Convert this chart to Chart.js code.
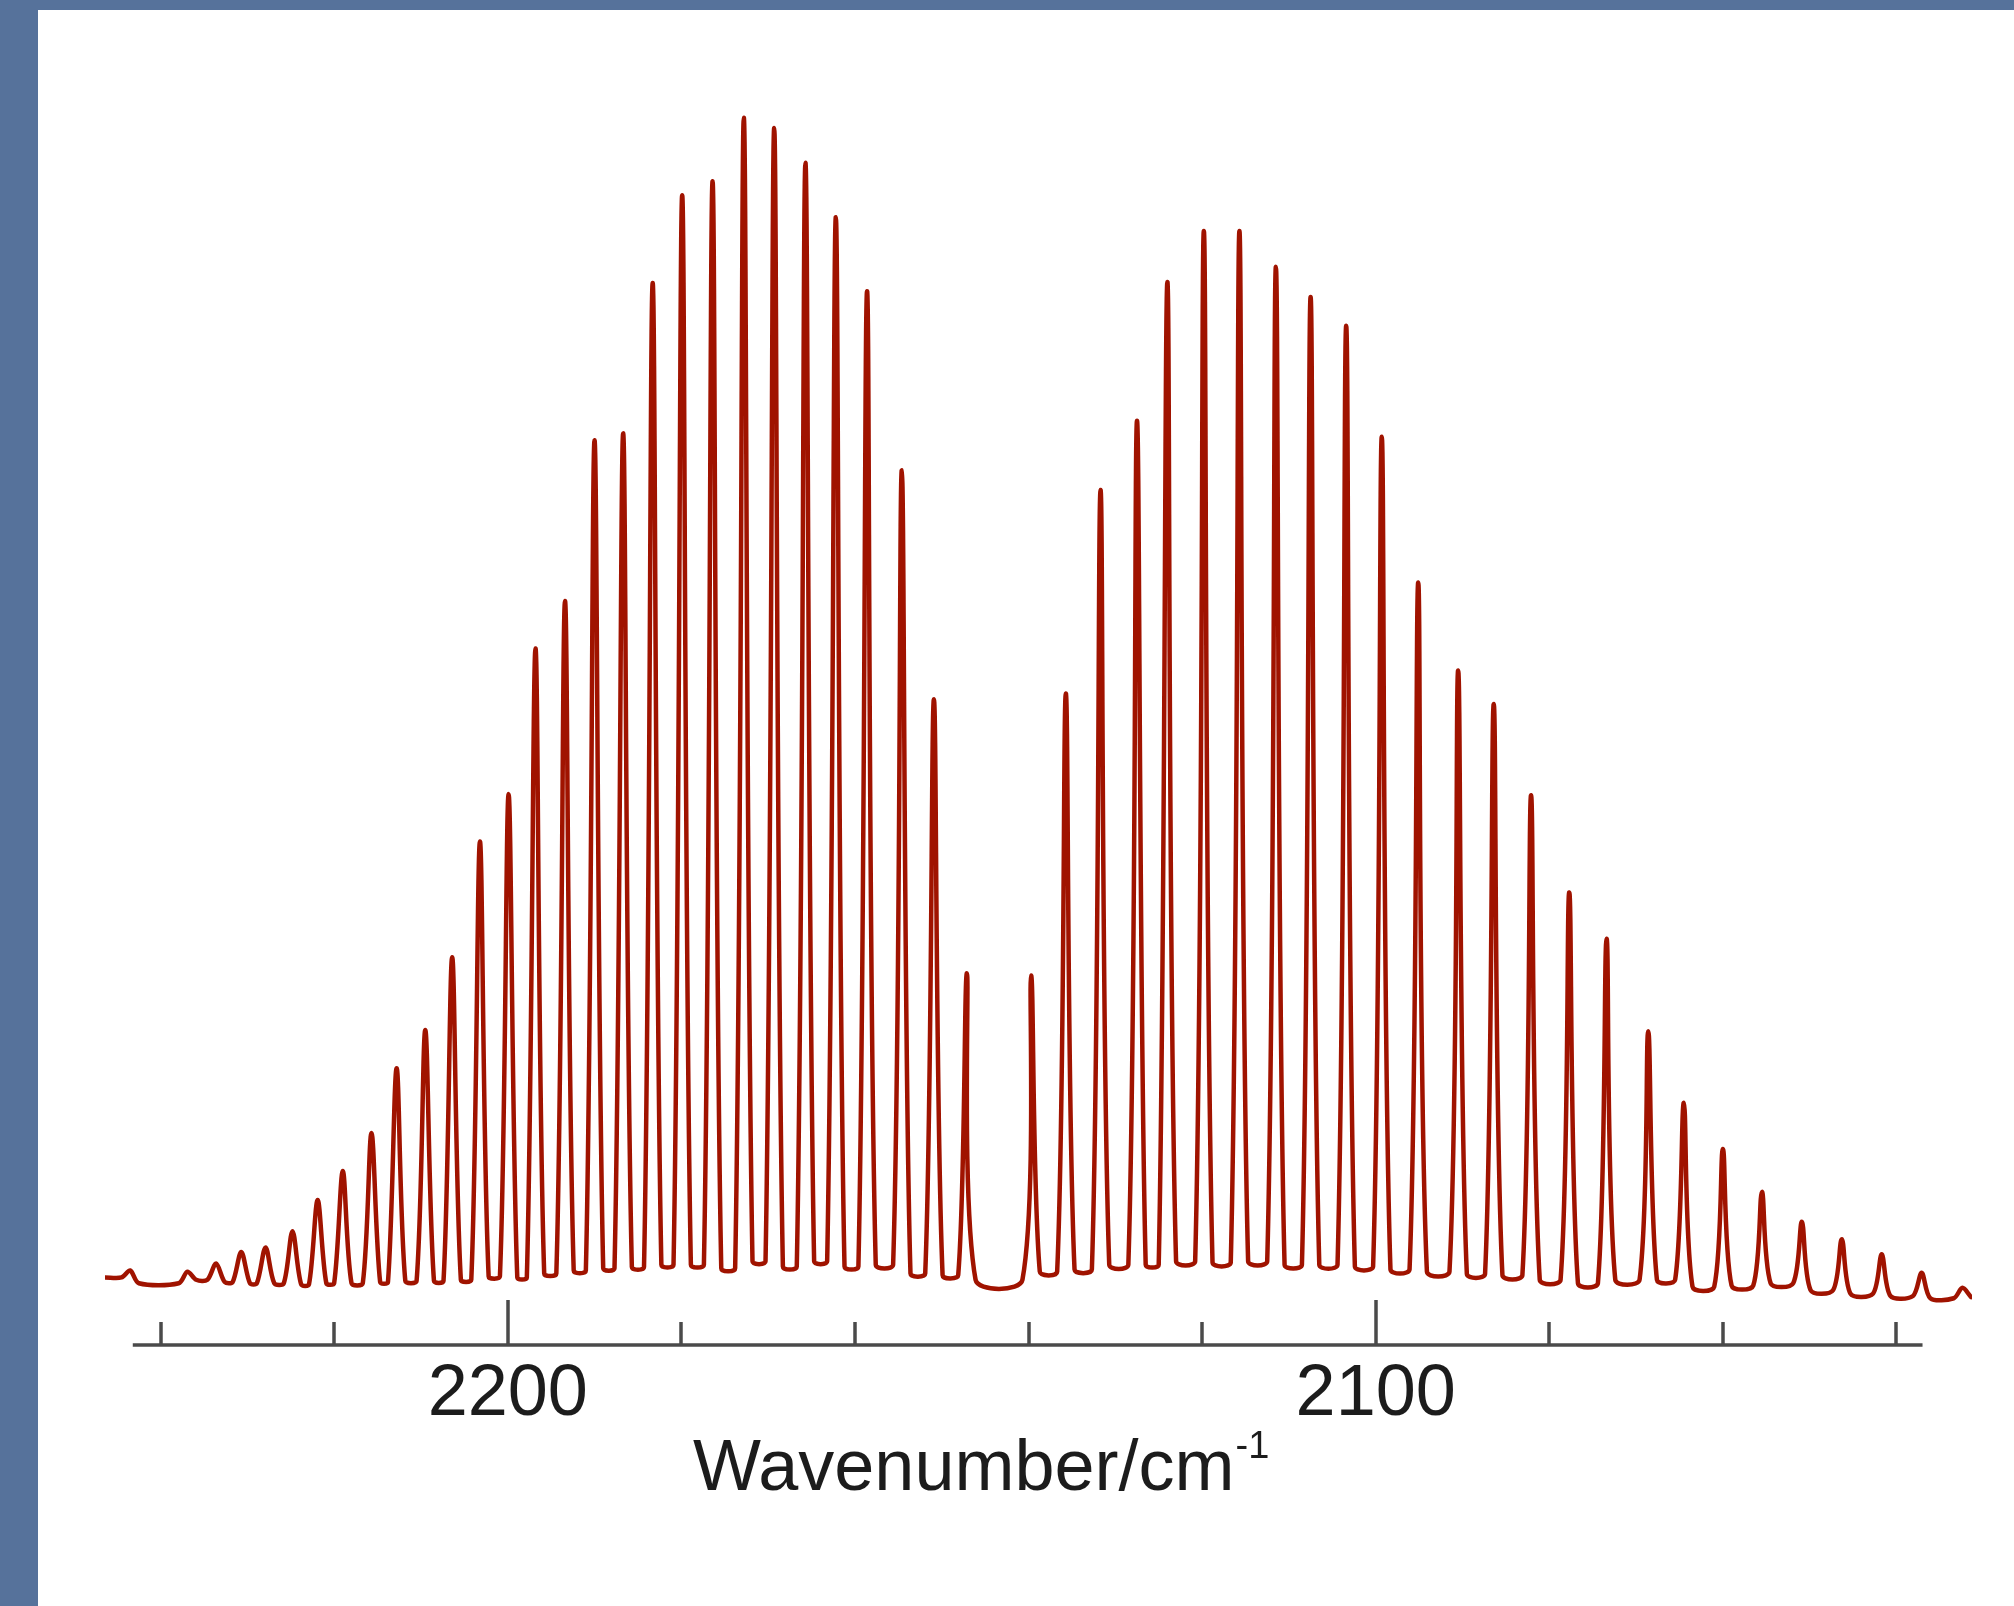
<!DOCTYPE html>
<html>
<head>
<meta charset="utf-8">
<script src="https://cdn.jsdelivr.net/npm/chart.js@4.4.1/dist/chart.umd.min.js"></script>
<style>
  html, body { margin: 0; padding: 0; width: 2014px; height: 1606px; overflow: hidden; background: #56729b; }
  #panel { position: absolute; left: 38px; top: 10px; width: 1976px; height: 1596px; background: #fff; }
  #chart { position: absolute; left: 0; top: 0; }
</style>
</head>
<body>
<div id="panel"></div>
<canvas id="chart" width="2014" height="1606"></canvas>
<script>
// CO fundamental band, R branch (left) and P branch (right); intensity in arbitrary units
const lineWn = [
  2243.5, 2236.9,
  2233.6, 2230.7, 2227.9, 2224.8, 2221.9, 2219.0, 2215.7, 2212.8, 2209.5, 2206.4,
  2203.2, 2199.9, 2196.8, 2193.4, 2190.0, 2186.7, 2183.3, 2179.9, 2176.4, 2172.8,
  2169.3, 2165.7, 2162.2, 2158.6, 2154.6, 2150.9, 2147.1,
  2139.7, 2135.7, 2131.7, 2127.5, 2124.0, 2119.8, 2115.7, 2111.5, 2107.5, 2103.4,
  2099.3, 2095.1, 2090.5, 2086.4, 2082.1, 2077.7, 2073.4, 2068.6, 2064.5, 2060.0,
  2055.5, 2050.9, 2046.3, 2041.7, 2037.1, 2032.4
];
const lineHeight = [
  1.2, 1.1,
  1.8, 2.8, 3.2, 4.6, 7.3, 9.8, 13.1, 18.7, 22.0, 28.3,
  38.3, 42.4, 55.0, 59.1, 73.0, 73.6, 86.6, 94.2, 95.4, 100.9,
  100.0, 97.0, 92.3, 85.9, 70.4, 50.6, 26.9,
  26.7, 51.1, 68.7, 74.7, 86.7, 91.1, 91.1, 88.0, 85.4, 82.9,
  73.3, 60.7, 53.1, 50.2, 42.3, 33.9, 29.9, 21.9, 15.7, 11.7,
  8.0, 5.4, 3.9, 2.6, 1.0, -0.3
];
// baseline level before the first line, between lines, and after the last line
const valleyLevel = [
  0.6, 0.1, 0.4,
  0.2, 0.1, 0.1, 0.0, 0.1, 0.1, 0.2, 0.3, 0.3, 0.4,
  0.7, 0.6, 0.95, 1.2, 1.4, 1.5, 1.7, 1.7, 1.4, 2.0,
  1.55, 2.0, 1.55, 1.7, 0.95, 0.8, 0.4,
  1.1, 1.3, 1.7, 1.7, 2.0, 1.9, 2.0, 1.7, 1.7, 1.55,
  1.3, 1.1, 0.9, 0.8, 0.4, 0.1, 0.4, 0.4, -0.2, -0.1,
  0.1, -0.5, -0.8, -1.0, -1.2, -1.1
];
const spanWn = [2246.4, 2031.3];
const axisWn = [2243.2, 2037.0];
const tickWn = [2240, 2220, 2200, 2180, 2160, 2140, 2120, 2100, 2080, 2060, 2040];
const labelWn = [2200, 2100];
const xTitle = 'Wavenumber/cm';
const xTitleSup = '-1';

const HW = 1.0;        // half width of a line foot, cm-1
const RED = '#a01300';

const pts = [{ x: spanWn[0], y: valleyLevel[0] }];
lineWn.forEach((wn, i) => {
  pts.push({ x: wn + HW, y: valleyLevel[i] });
  pts.push({ x: wn, y: lineHeight[i] });
  pts.push({ x: wn - HW, y: valleyLevel[i + 1] });
});
pts.push({ x: spanWn[1], y: valleyLevel[valleyLevel.length - 1] });

const AXIS_Y = 1345;
const axisPlugin = {
  id: 'axis',
  afterDraw(chart) {
    const c = chart.ctx, xs = chart.scales.x;
    c.save();
    c.strokeStyle = '#4a4a4a';
    c.lineWidth = 3.5;
    c.beginPath();
    c.moveTo(xs.getPixelForValue(axisWn[0]), AXIS_Y);
    c.lineTo(xs.getPixelForValue(axisWn[1]), AXIS_Y);
    c.stroke();
    for (const t of tickWn) {
      const px = Math.round(xs.getPixelForValue(t));
      c.beginPath();
      c.moveTo(px, AXIS_Y);
      c.lineTo(px, labelWn.includes(t) ? 1300 : 1322);
      c.stroke();
    }
    c.fillStyle = '#1c1c1c';
    c.font = '72px "Liberation Sans", Arial, sans-serif';
    c.textAlign = 'center';
    c.textBaseline = 'alphabetic';
    for (const t of labelWn) c.fillText(String(t), xs.getPixelForValue(t), 1415);
    c.textAlign = 'left';
    c.fillText(xTitle, 693, 1490);
    const w = c.measureText(xTitle).width;
    c.font = '38px "Liberation Sans", Arial, sans-serif';
    c.fillText(xTitleSup, 693 + w + 1, 1458);
    c.restore();
  }
};

new Chart(document.getElementById('chart'), {
  type: 'line',
  data: {
    datasets: [{
      data: pts,
      borderColor: RED,
      borderWidth: 4.5,
      pointRadius: 0,
      tension: 0.3,
      fill: false,
    }]
  },
  options: {
    responsive: false, animation: false, devicePixelRatio: 1,
    layout: { padding: { left: 105, right: 42, top: 105, bottom: 298.5 } },
    scales: {
      x: { type: 'linear', min: spanWn[1], max: spanWn[0], reverse: true, display: false },
      y: { min: -2, max: 102, display: false },
    },
    plugins: { legend: { display: false }, tooltip: { enabled: false } },
  },
  plugins: [axisPlugin],
});
</script>
</body>
</html>
